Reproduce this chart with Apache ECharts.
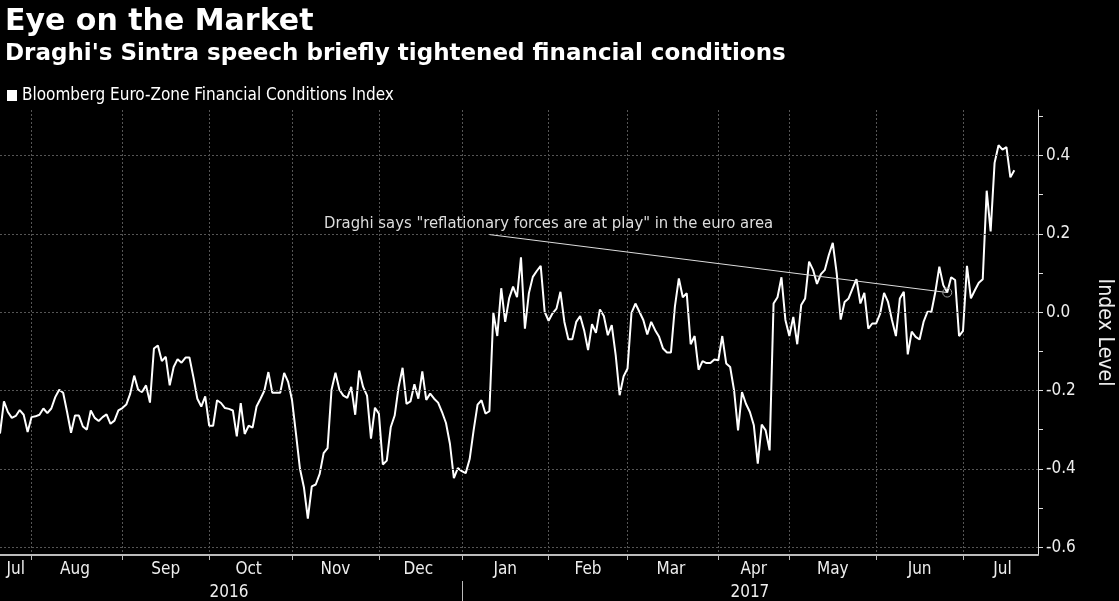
<!DOCTYPE html>
<html>
<head>
<meta charset="utf-8">
<script src="https://cdn.jsdelivr.net/npm/echarts@6/dist/echarts.min.js"></script>
<style>
html,body{margin:0;padding:0;background:#000;}
#chart{width:1119px;height:601px;}
</style>
</head>
<body>
<div id="chart"></div>
<script>
// ---- data ----
const titleText = 'Eye on the Market';
const subtitleText = "Draghi's Sintra speech briefly tightened financial conditions";
const seriesName = 'Bloomberg Euro-Zone Financial Conditions Index';
const annotationText = 'Draghi says "reflationary forces are at play" in the euro area';
const yAxisName = 'Index Level';

// trading calendar (weekdays minus market holidays)
const calendarStart = '2016-07-20';
const calendarEnd = '2017-07-28';
const holidays = ['2016-12-26', '2017-04-14', '2017-04-17', '2017-05-01'];
const monthNames = ['Jan','Feb','Mar','Apr','May','Jun','Jul','Aug','Sep','Oct','Nov','Dec'];

const yTickLabels = [-0.6, -0.4, -0.2, 0.0, 0.2, 0.4];
const yMinorTicks = [-0.6, -0.5, -0.4, -0.3, -0.2, -0.1, 0.0, 0.1, 0.2, 0.3, 0.4, 0.5];

// index level, one value per trading day from 2016-07-20
const fciValues = [
 -0.31,-0.228,-0.255,-0.27,-0.265,-0.25,-0.262,-0.306,-0.268,-0.266,
 -0.262,-0.246,-0.258,-0.246,-0.217,-0.198,-0.206,-0.255,-0.308,-0.264,
 -0.264,-0.292,-0.30,-0.251,-0.27,-0.278,-0.268,-0.261,-0.285,-0.277,
 -0.251,-0.245,-0.236,-0.208,-0.162,-0.198,-0.204,-0.187,-0.231,-0.093,
 -0.085,-0.125,-0.114,-0.187,-0.14,-0.12,-0.129,-0.116,-0.116,-0.166,
 -0.221,-0.241,-0.215,-0.29,-0.29,-0.225,-0.232,-0.245,-0.247,-0.251,
 -0.317,-0.232,-0.311,-0.29,-0.295,-0.241,-0.221,-0.2,-0.153,-0.206,
 -0.206,-0.206,-0.155,-0.178,-0.225,-0.311,-0.40,-0.447,-0.527,-0.445,
 -0.44,-0.413,-0.36,-0.347,-0.198,-0.155,-0.198,-0.213,-0.219,-0.191,
 -0.262,-0.149,-0.191,-0.213,-0.323,-0.244,-0.259,-0.389,-0.379,-0.294,
 -0.264,-0.191,-0.142,-0.234,-0.228,-0.184,-0.221,-0.151,-0.224,-0.208,
 -0.221,-0.231,-0.255,-0.283,-0.336,-0.424,-0.398,-0.406,-0.411,-0.375,
 -0.302,-0.236,-0.225,-0.259,-0.253,-0.002,-0.061,0.061,-0.025,0.035,
 0.065,0.038,0.14,-0.042,0.048,0.09,0.105,0.118,0.001,-0.022,
 -0.003,0.009,0.052,-0.025,-0.069,-0.069,-0.025,-0.01,-0.046,-0.097,
 -0.031,-0.053,0.007,-0.01,-0.059,-0.033,-0.11,-0.212,-0.164,-0.144,
 -0.002,0.022,0.001,-0.02,-0.057,-0.025,-0.046,-0.063,-0.093,-0.103,
 -0.103,0.014,0.086,0.038,0.048,-0.082,-0.061,-0.147,-0.125,-0.13,
 -0.13,-0.121,-0.123,-0.061,-0.131,-0.14,-0.2,-0.302,-0.204,-0.234,
 -0.255,-0.289,-0.387,-0.287,-0.302,-0.353,0.022,0.038,0.089,-0.02,
 -0.061,-0.012,-0.082,0.018,0.035,0.129,0.108,0.072,0.097,0.108,
 0.146,0.177,0.099,-0.019,0.026,0.035,0.06,0.084,0.022,0.049,
 -0.042,-0.029,-0.029,-0.004,0.049,0.026,-0.02,-0.061,0.035,0.052,
 -0.108,-0.05,-0.063,-0.07,-0.025,0.001,0.001,0.052,0.116,0.069,
 0.05,0.089,0.082,-0.061,-0.048,0.118,0.035,0.056,0.075,0.084,
 0.31,0.206,0.381,0.426,0.415,0.421,0.344,0.362
];

// annotation: speech day, and where the callout text sits
const eventDate = '2017-06-27';
const calloutStart = ['2017-01-11', 0.198];
const calloutTextAt = ['2017-02-01', 0.225];

// ---- build calendar ----
function buildCalendar(start, end, hol) {
  const out = [];
  const d = new Date(start + 'T00:00:00Z');
  const e = new Date(end + 'T00:00:00Z');
  while (d <= e) {
    const wd = d.getUTCDay();
    const s = d.toISOString().slice(0, 10);
    if (wd !== 0 && wd !== 6 && hol.indexOf(s) < 0) out.push(s);
    d.setUTCDate(d.getUTCDate() + 1);
  }
  return out;
}
const categories = buildCalendar(calendarStart, calendarEnd, holidays);

const monthStart = new Set();
const monthMid = new Map();
const yearStart = new Set();
const yearMid = new Map();
(function () {
  const groupsM = {}, groupsY = {};
  categories.forEach((c, i) => {
    const m = c.slice(0, 7), y = c.slice(0, 4);
    (groupsM[m] = groupsM[m] || []).push(i);
    (groupsY[y] = groupsY[y] || []).push(i);
  });
  Object.keys(groupsM).forEach(k => {
    const a = groupsM[k];
    if (a[0] !== 0) monthStart.add(a[0]);
    monthMid.set(Math.round((a[0] + a[a.length - 1]) / 2), monthNames[+k.slice(5, 7) - 1]);
  });
  Object.keys(groupsY).forEach(k => {
    const a = groupsY[k];
    if (a[0] !== 0) yearStart.add(a[0]);
    yearMid.set(Math.round((a[0] + a[a.length - 1]) / 2), k);
  });
})();

const eventIdx = categories.indexOf(eventDate);

const textFont = '"DejaVu Sans Condensed", "DejaVu Sans", sans-serif';
const gridColor = '#555';

const chart = echarts.init(document.getElementById('chart'));
chart.setOption({
  backgroundColor: '#000',
  animation: false,
  title: {
    text: titleText,
    subtext: subtitleText,
    left: 0, top: 2,
    itemGap: 6,
    textStyle: { color: '#fff', fontFamily: '"DejaVu Sans", sans-serif', fontWeight: 'bold', fontSize: 30 },
    subtextStyle: { color: '#fff', fontFamily: '"DejaVu Sans", sans-serif', fontWeight: 'bold', fontSize: 23 }
  },
  legend: {
    data: [seriesName],
    left: 2, top: 82,
    icon: 'rect', itemWidth: 10, itemHeight: 11, itemGap: 4,
    textStyle: { color: '#fff', fontFamily: textFont, fontSize: 17 }
  },
  grid: { left: 0, right: 81, top: 110, bottom: 46, containLabel: false, outerBoundsMode: 'none' },
  xAxis: [{
    type: 'category',
    data: categories,
    boundaryGap: false,
    axisLine: { onZero: false, lineStyle: { color: '#bbb', width: 2 } },
    axisTick: { show: true, length: 5, interval: (i) => monthStart.has(i), lineStyle: { color: '#bbb' } },
    axisLabel: {
      interval: (i) => monthMid.has(i),
      formatter: (v, i) => monthMid.get(i) || '',
      color: '#eee', fontFamily: textFont, fontSize: 17, margin: 6
    },
    splitLine: { show: true, interval: (i) => monthStart.has(i), lineStyle: { color: gridColor, type: [2, 2], width: 1 } }
  }, {
    type: 'category',
    data: categories,
    boundaryGap: false,
    position: 'bottom',
    offset: 26,
    axisLine: { show: false, onZero: false },
    axisTick: { show: true, length: 20, interval: (i) => yearStart.has(i), lineStyle: { color: '#bbb' } },
    axisLabel: {
      interval: (i) => yearMid.has(i),
      formatter: (v, i) => yearMid.get(i) || '',
      color: '#eee', fontFamily: textFont, fontSize: 17, margin: 3
    },
    splitLine: { show: false }
  }],
  yAxis: {
    type: 'value',
    position: 'right',
    min: -0.62, max: 0.516,
    axisLine: { show: true, lineStyle: { color: '#ddd', width: 1 } },
    axisTick: { show: true, length: 5, customValues: yMinorTicks, lineStyle: { color: '#ddd' } },
    axisLabel: {
      customValues: yTickLabels,
      formatter: (v) => v.toFixed(1),
      color: '#eee', fontFamily: textFont, fontSize: 17, margin: 8
    },
    splitLine: { show: false },
    name: yAxisName,
    nameLocation: 'middle',
    nameRotate: -90,
    nameGap: 56,
    nameTextStyle: { color: '#eee', fontFamily: textFont, fontSize: 21 }
  },
  series: [{
    name: 'grid',
    type: 'line',
    data: [],
    z: 1,
    silent: true,
    markLine: {
      silent: true,
      symbol: 'none',
      label: { show: false },
      lineStyle: { color: gridColor, type: [2, 2], width: 1 },
      data: yTickLabels.map(v => ({ yAxis: v }))
    }
  }, {
    name: seriesName,
    type: 'line',
    data: fciValues,
    z: 3,
    showSymbol: false,
    symbol: 'none',
    color: '#fff',
    lineStyle: { color: '#fff', width: 2 },
    markLine: {
      silent: true,
      symbol: 'none',
      label: { show: false },
      lineStyle: { color: '#ddd', type: 'solid', width: 1 },
      data: [[
        { coord: [categories.indexOf(calloutStart[0]), calloutStart[1]] },
        { coord: [eventIdx, fciValues[eventIdx]] }
      ]]
    },
    markPoint: {
      silent: true,
      data: [{
        coord: [eventIdx, fciValues[eventIdx]],
        symbol: 'circle', symbolSize: 9,
        itemStyle: { color: 'rgba(0,0,0,0)', borderColor: '#999', borderWidth: 1 },
        label: { show: false }
      }, {
        coord: [categories.indexOf(calloutTextAt[0]), calloutTextAt[1]],
        symbol: 'circle', symbolSize: 1,
        itemStyle: { color: 'rgba(0,0,0,0)' },
        label: {
          show: true, position: 'inside',
          formatter: annotationText,
          color: '#ddd', fontFamily: textFont, fontSize: 16.5
        }
      }]
    }
  }]
});
</script>
</body>
</html>
